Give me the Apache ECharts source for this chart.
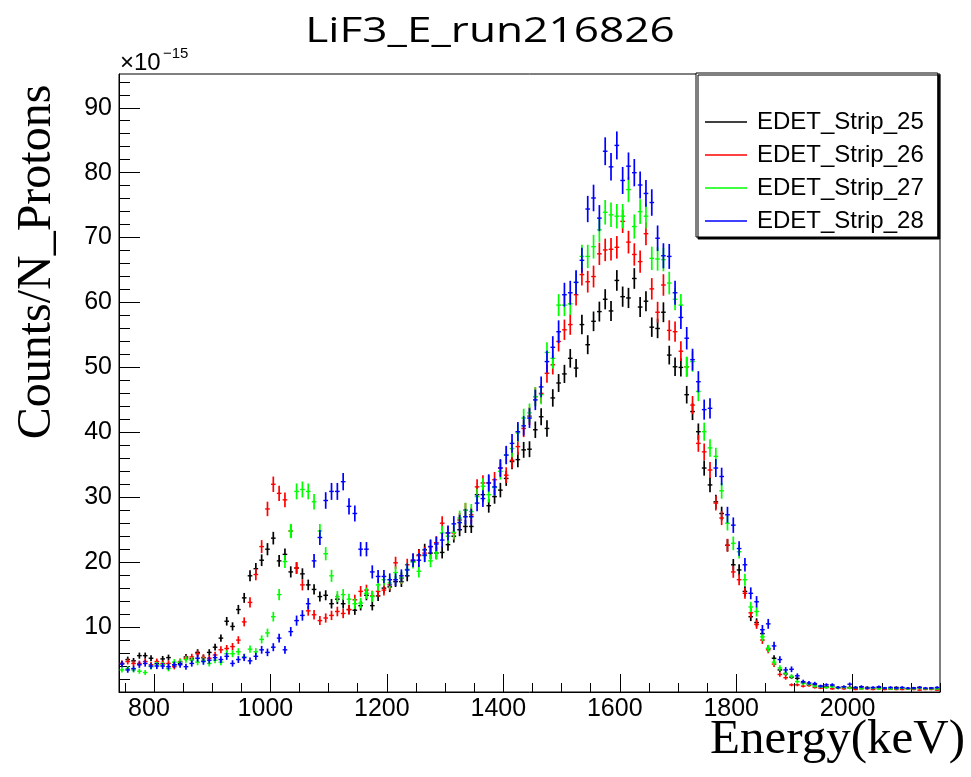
<!DOCTYPE html>
<html>
<head>
<meta charset="utf-8">
<script src="https://cdn.jsdelivr.net/npm/echarts@6/dist/echarts.min.js"></script>
<style>
html,body{margin:0;padding:0;background:#fff;}
#chart{width:971px;height:777px;}
</style>
</head>
<body>
<div id="chart"></div>
<script>
// Histogram binning (bin centres, keV): 141 bins of 10 keV from 740 to 2150
var binStart = 740, binWidth = 10, binCount = 141;
var binCenters = [];
for (var i = 0; i < binCount; i++) binCenters.push(binStart + binWidth / 2 + binWidth * i);

var seriesNames = ['EDET_Strip_25', 'EDET_Strip_26', 'EDET_Strip_27', 'EDET_Strip_28'];
var seriesColors = ['#000000', '#ff0000', '#00ff00', '#0000ff'];
// relative statistical error scale per strip (err = scale*sqrt(value))
var errScales = [0.20, 0.21, 0.22, 0.235];

// Counts/N_Protons (x1e-15)
var strip25 = [4.4,5.0,4.8,5.6,5.6,5.2,4.4,5.1,5.3,4.2,
4.4,5.4,5.1,6.1,5.3,6.1,6.9,8.3,10.9,10.1,
12.7,14.5,17.9,19.0,20.3,22.0,23.7,20.2,21.2,18.5,
19.1,18.2,16.5,15.8,14.7,14.9,13.6,14.3,13.6,12.7,
12.6,13.3,14.9,13.3,14.8,16.0,16.2,17.0,17.0,17.9,
20.1,21.1,21.9,21.4,21.4,21.5,22.7,24.0,25.0,25.5,
25.5,30.4,30.4,28.7,30.1,31.1,32.9,35.5,35.8,37.3,
37.4,40.4,42.4,40.6,45.3,47.6,49.0,51.4,49.9,56.6,
53.5,57.1,58.6,60.5,58.7,63.4,60.9,60.7,63.7,59.3,
60.2,56.2,56.0,58.5,51.9,50.1,50.0,45.8,43.2,40.1,
34.5,31.9,29.3,27.5,22.6,19.6,18.8,15.5,11.6,10.7,
9.0,6.7,5.2,3.4,2.8,2.3,2.1,1.4,1.2,1.1,
0.9,0.8,0.9,0.7,0.8,0.7,0.6,0.8,0.7,0.6,
0.7,0.6,0.5,0.7,0.6,0.5,0.6,0.7,0.5,0.6,
0.5];

var strip26 = [4.4,4.7,4.4,4.4,4.7,4.2,4.7,4.4,4.4,3.9,
4.7,5.2,5.4,5.9,5.3,5.2,5.7,6.5,6.7,7.0,
8.0,10.8,13.8,18.1,22.4,28.2,32.0,30.6,29.6,24.8,
19.1,16.5,12.5,11.9,11.0,11.4,11.8,12.4,12.1,12.7,
14.2,15.5,15.7,14.8,15.5,15.7,16.5,19.9,17.5,19.6,
20.3,21.0,21.4,22.4,23.0,26.0,24.5,24.5,26.5,28.0,
27.3,31.6,32.2,32.2,32.7,34.5,33.4,35.7,37.8,40.6,
42.5,45.5,46.0,49.1,50.4,54.0,55.8,56.6,61.2,64.3,
63.2,64.0,67.5,68.1,68.2,68.5,72.5,69.3,67.4,66.3,
70.6,62.1,58.5,62.7,55.7,55.5,52.5,50.1,44.2,38.3,
37.0,34.2,29.1,26.8,22.6,18.5,17.3,15.2,12.2,10.4,
8.0,6.5,4.3,2.7,2.2,1.1,1.1,0.9,1.0,0.7,
0.6,0.7,0.5,0.6,0.5,0.6,0.4,0.5,0.5,0.4,
0.5,0.4,0.5,0.4,0.4,0.5,0.4,0.3,0.4,0.4,
0.3];

var strip27 = [3.4,3.6,3.4,3.2,3.0,3.9,4.2,4.2,3.6,4.6,
4.6,5.0,4.9,4.6,4.9,4.4,4.9,4.6,5.9,5.9,
6.2,5.4,6.6,6.2,8.1,9.1,11.6,15.0,20.1,24.8,
30.9,31.2,30.9,29.3,24.8,21.3,17.9,14.7,15.0,14.3,
13.6,13.7,15.2,14.7,16.5,17.3,16.8,18.4,17.6,18.9,
20.0,18.6,21.0,20.2,21.4,24.5,24.0,24.6,26.8,28.0,
27.8,30.1,31.7,30.4,31.5,34.0,36.5,37.5,39.9,42.2,
43.0,45.5,45.8,52.3,51.4,59.6,59.6,59.8,63.1,67.1,
67.1,68.6,71.2,73.9,73.5,73.3,73.3,77.4,71.7,74.0,
73.3,66.8,66.7,66.6,63.0,60.5,59.6,50.1,50.9,46.3,
40.1,37.6,36.3,31.0,26.0,22.9,21.6,17.3,13.1,12.4,
8.5,6.7,4.6,3.7,2.9,2.4,1.6,1.3,1.2,0.9,
0.8,0.7,0.8,0.6,0.7,0.6,0.7,0.5,0.6,0.6,
0.5,0.6,0.5,0.5,0.6,0.5,0.5,0.6,0.5,0.5,
0.5];

var strip28 = [4.3,3.4,3.6,4.2,4.4,4.0,4.0,4.0,3.9,4.2,
4.2,3.9,4.4,5.2,4.7,4.9,5.3,5.0,5.5,4.4,
5.0,5.3,4.8,5.5,6.5,6.1,6.9,8.3,6.5,9.3,
11.0,11.8,13.6,20.2,23.8,29.5,30.9,30.9,32.4,28.6,
27.5,22.0,22.0,18.5,17.8,17.8,17.3,17.3,17.9,18.8,
20.3,20.3,21.1,22.4,22.8,23.4,24.5,25.9,26.1,27.0,
27.0,29.1,29.8,32.2,31.6,34.5,36.5,38.3,40.1,41.0,
42.2,45.0,47.0,50.9,53.1,55.5,61.2,61.5,63.1,66.5,
74.4,76.1,73.0,83.3,80.9,84.2,78.8,81.0,80.0,78.1,
76.8,75.4,69.9,67.2,67.1,61.5,57.7,54.5,51.2,47.8,
43.5,43.7,34.5,33.2,27.3,25.7,22.1,19.6,15.2,13.9,
9.6,10.5,7.1,5.0,3.4,3.5,2.5,1.6,1.4,1.3,
0.9,1.1,1.1,0.7,0.8,1.2,0.7,0.8,0.6,0.7,
0.8,0.6,0.7,0.6,0.7,0.6,0.6,0.7,0.6,0.6,
0.7];

var xMajorTicks = [800, 1000, 1200, 1400, 1600, 1800, 2000];
var xMinorTicks = [];
for (var v = 750; v <= 2150; v += 50) xMinorTicks.push(v);
var yMajorTicks = [10, 20, 30, 40, 50, 60, 70, 80, 90];
var yMinorTicks = [];
for (var w = 2; w <= 94; w += 2) yMinorTicks.push(w);

var allSeries = [strip25, strip26, strip27, strip28];

var chart = echarts.init(document.getElementById('chart'), null, {renderer: 'canvas'});

function makeSeries(idx) {
  var vals = allSeries[idx];
  var data = [];
  for (var i = 0; i < vals.length; i++) data.push([binCenters[i], vals[i]]);
  var scale = errScales[idx];
  return {
    name: seriesNames[idx],
    type: 'custom',
    xAxisIndex: 0,
    yAxisIndex: 0,
    clip: true,
    itemStyle: {color: seriesColors[idx]},
    data: data,
    renderItem: function (params, api) {
      var x = api.value(0), y = api.value(1);
      var err = scale * Math.sqrt(y);
      var c = api.coord([x, y]);
      var lo = api.coord([x, y - err]);
      var hi = api.coord([x, y + err]);
      var l = api.coord([x - 4, y]);
      var r = api.coord([x + 4, y]);
      var col = api.visual('color');
      return {
        type: 'group',
        children: [
          {type: 'line', shape: {x1: l[0], y1: c[1], x2: r[0], y2: c[1]}, style: {stroke: col, lineWidth: 1.4}},
          {type: 'line', shape: {x1: c[0], y1: lo[1], x2: c[0], y2: hi[1]}, style: {stroke: col, lineWidth: 1.7}}
        ]
      };
    }
  };
}

function plainNumber(val) { return String(val); }

var labelFont = {fontFamily: 'Liberation Sans', fontSize: 25, color: '#000'};

var option = {
  backgroundColor: '#ffffff',
  animation: false,
  grid: {left: 119, top: 74, width: 821, height: 618, show: true, borderColor: '#000', borderWidth: 1, backgroundColor: 'transparent'},
  legend: {
    orient: 'vertical',
    left: 696,
    top: 73,
    data: seriesNames,
    icon: 'rect',
    itemWidth: 42,
    itemHeight: 1.6,
    itemGap: 9,
    padding: [37, 14, 4, 9],
    backgroundColor: '#ffffff',
    borderColor: '#000',
    borderWidth: 1,
    shadowColor: '#000',
    shadowOffsetX: 2,
    shadowOffsetY: 2,
    shadowBlur: 0,
    textStyle: {fontFamily: 'Liberation Sans', fontSize: 24, color: '#000', lineHeight: 24, padding: [0, 0, 0, 5]}
  },
  xAxis: [
    {
      type: 'value', min: 740, max: 2150, position: 'bottom',
      axisLine: {show: true, lineStyle: {color: '#000', width: 1}},
      axisTick: {show: true, inside: true, length: 18, customValues: xMajorTicks, lineStyle: {color: '#000', width: 1}},
      axisLabel: Object.assign({customValues: xMajorTicks, margin: 5, padding: [0, 10, 0, 0], formatter: plainNumber}, labelFont),
      splitLine: {show: false}
    },
    {
      type: 'value', min: 740, max: 2150, position: 'bottom',
      axisLine: {show: false},
      axisTick: {show: true, inside: true, length: 9, customValues: xMinorTicks, lineStyle: {color: '#000', width: 1}},
      axisLabel: {show: false},
      splitLine: {show: false}
    }
  ],
  yAxis: [
    {
      type: 'value', min: 0, max: 95.2, position: 'left',
      axisLine: {show: true, lineStyle: {color: '#000', width: 1}},
      axisTick: {show: true, inside: true, length: 21, customValues: yMajorTicks, lineStyle: {color: '#000', width: 1}},
      axisLabel: Object.assign({customValues: yMajorTicks, margin: 7, formatter: plainNumber}, labelFont),
      splitLine: {show: false}
    },
    {
      type: 'value', min: 0, max: 95.2, position: 'left', offset: 0,
      axisLine: {show: false},
      axisTick: {show: true, inside: true, length: 11, customValues: yMinorTicks, lineStyle: {color: '#000', width: 1}},
      axisLabel: {show: false},
      splitLine: {show: false}
    }
  ],
  graphic: [
    {type: 'text', x: 490, y: 32, scaleX: 1.3, style: {text: 'LiF3_E_run216826', fontFamily: 'Open Sans', fontSize: 34, fill: '#000', align: 'center', verticalAlign: 'middle'}},
    {type: 'text', x: 120, y: 63.5, style: {text: '\u00d710', fontFamily: 'Liberation Sans', fontSize: 24, fill: '#000', align: 'left', verticalAlign: 'middle'}},
    {type: 'text', x: 163, y: 53.5, style: {text: '\u221215', fontFamily: 'Liberation Sans', fontSize: 15, fill: '#000', align: 'left', verticalAlign: 'middle'}},
    {type: 'text', x: 965, y: 740, style: {text: 'Energy(keV)', fontFamily: 'Liberation Serif', fontSize: 49, fill: '#000', align: 'right', verticalAlign: 'middle'}},
    {type: 'text', x: 37, y: 262, rotation: Math.PI / 2, style: {text: 'Counts/N_Protons', fontFamily: 'Liberation Serif', fontSize: 48, fill: '#000', align: 'center', verticalAlign: 'middle'}}
  ],
  series: [makeSeries(0), makeSeries(1), makeSeries(2), makeSeries(3)]
};

chart.setOption(option);
</script>
</body>
</html>
